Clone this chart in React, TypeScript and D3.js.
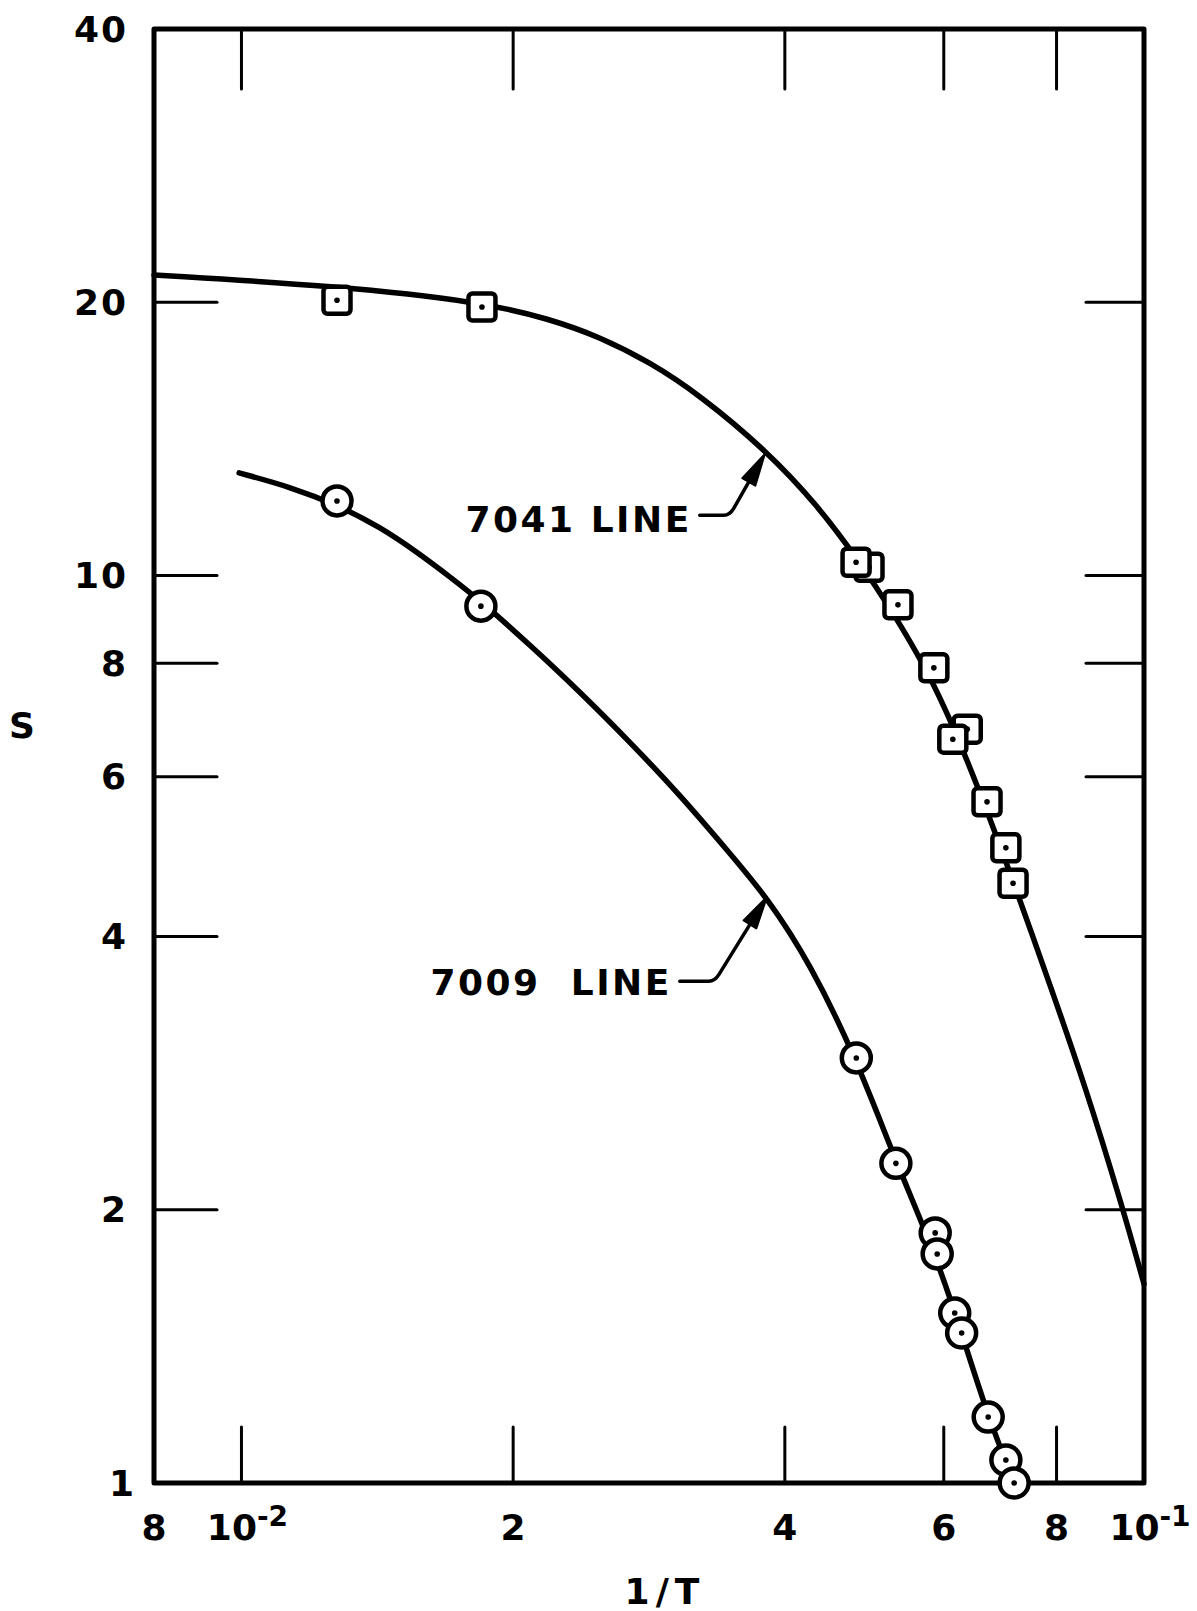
import React from "react";
import * as d3 from "d3";

const W = 1197;
const H = 1611;

// Axis ranges (log–log)
const xDomain = [0.008, 0.1];
const yDomain = [1, 40];

// Tick marks and their labels
const xTickValues = [0.01, 0.02, 0.04, 0.06, 0.08];
const xLabelValues = [0.008, 0.01, 0.02, 0.04, 0.06, 0.08, 0.1];
const xLabelBase = ["8", "10", "2", "4", "6", "8", "10"];
const xLabelExp = ["", "-2", "", "", "", "", "-1"];
const yTickValues = [2, 4, 6, 8, 10, 20];
const yLabelValues = [1, 2, 4, 6, 8, 10, 20, 40];
const yLabelText = ["1", "2", "4", "6", "8", "10", "20", "40"];

// 7041 line: fitted curve and measured points (squares)
const curve7041X = [0.008, 0.01276, 0.01847, 0.02198, 0.02496, 0.02835, 0.03221, 0.03821, 0.04342, 0.04797, 0.05271, 0.05763, 0.06174, 0.06665, 0.07287, 0.07866, 0.086, 0.0945, 0.1];
const curve7041Y = [21.43, 20.84, 20.01, 19.16, 18.31, 17.18, 15.8, 13.71, 11.96, 10.48, 9.11, 7.83, 6.755, 5.585, 4.39, 3.54, 2.745, 2.025, 1.657];
const points7041X = [0.01276, 0.01847, 0.04958, 0.04797, 0.05338, 0.0585, 0.0637, 0.0614, 0.067, 0.0703, 0.0716];
const points7041Y = [20.1, 19.76, 10.21, 10.34, 9.28, 7.91, 6.77, 6.6, 5.63, 5.01, 4.58];

// 7009 line: fitted curve and measured points (circles)
const curve7009X = [0.00994, 0.01132, 0.01276, 0.01424, 0.01565, 0.01703, 0.01842, 0.02088, 0.02372, 0.02695, 0.03061, 0.03477, 0.03821, 0.04265, 0.04797, 0.0531, 0.0588, 0.0629, 0.0672, 0.0718];
const curve7009Y = [12.97, 12.52, 11.96, 11.31, 10.61, 9.96, 9.37, 8.38, 7.44, 6.55, 5.73, 4.94, 4.42, 3.74, 2.94, 2.258, 1.783, 1.456, 1.182, 1.0];
const points7009X = [0.01276, 0.01842, 0.048, 0.0531, 0.0587, 0.059, 0.0617, 0.0628, 0.0672, 0.0703, 0.0718];
const points7009Y = [12.08, 9.25, 2.94, 2.25, 1.886, 1.788, 1.539, 1.463, 1.182, 1.06, 1.0];

// Curve labels, each pointing at a spot on its curve
const labelText = ["7041 LINE", "7009  LINE"];
const labelAtX = [0.038, 0.0382];
const labelAtY = [13.6, 4.42];

const FONT = "'DejaVu Sans', sans-serif";

export default function App() {
  const left = 154, right = 1144, top = 29, bottom = 1483;
  const x = d3.scaleLog().domain(xDomain).range([left, right]);
  const y = d3.scaleLog().domain(yDomain).range([bottom, top]);

  const line = d3
    .line<[number, number]>()
    .x((d) => x(d[0]))
    .y((d) => y(d[1]))
    .curve(d3.curveBasis);

  const c7041 = line(curve7041X.map((v, i) => [v, curve7041Y[i]] as [number, number])) || "";
  const c7009 = line(curve7009X.map((v, i) => [v, curve7009Y[i]] as [number, number])) || "";

  const tickLen = 60;
  const sq = 13.5;

  // leader geometry relative to arrow tip: [startDx, startDy, elbowDx, elbowDy, textDx, textDy]
  const leaders = [
    [-65, 61, -35, 61, -73, 78],
    [-87, 84, -52, 84, -95, 98],
  ];

  return (
    <svg
      width={W}
      height={H}
      viewBox={`0 0 ${W} ${H}`}
      style={{ position: "absolute", left: 0, top: 0, background: "#fff" }}
    >
      <rect x={0} y={0} width={W} height={H} fill="#fff" />

      {/* ticks */}
      <g stroke="#000" strokeWidth={3} strokeLinecap="round">
        {xTickValues.map((v, i) => (
          <g key={"xt" + i}>
            <line x1={x(v)} x2={x(v)} y1={bottom} y2={bottom - tickLen + 4} />
            <line x1={x(v)} x2={x(v)} y1={top} y2={top + tickLen} />
          </g>
        ))}
        {yTickValues.map((v, i) => (
          <g key={"yt" + i}>
            <line x1={left} x2={left + tickLen + 3} y1={y(v)} y2={y(v)} />
            <line x1={right} x2={right - tickLen + 2} y1={y(v)} y2={y(v)} />
          </g>
        ))}
      </g>

      {/* frame */}
      <rect
        x={left}
        y={top}
        width={right - left}
        height={bottom - top}
        fill="none"
        stroke="#000"
        strokeWidth={5}
        strokeLinejoin="round"
      />

      {/* curves */}
      <path d={c7041} fill="none" stroke="#000" strokeWidth={5.5} strokeLinecap="round" />
      <path d={c7009} fill="none" stroke="#000" strokeWidth={5.5} strokeLinecap="round" />

      {/* leaders and labels */}
      {labelText.map((t, i) => {
        const tx = x(labelAtX[i]);
        const ty = y(labelAtY[i]);
        const [sdx, sdy, edx, edy, tdx, tdy] = leaders[i];
        const ex = tx + edx, ey = ty + edy;
        const len = Math.hypot(tx - ex, ty - ey);
        const ux = (tx - ex) / len, uy = (ty - ey) / len;
        const headL = 32, headW = 7.5;
        const bx = tx - ux * headL, by = ty - uy * headL;
        const px = -uy, py = ux;
        return (
          <g key={"lab" + i}>
            <path
              d={`M${tx + sdx},${ty + sdy} L${ex - 6},${ey} Q${ex},${ey} ${ex + ux * 8},${ey + uy * 8} L${bx},${by}`}
              fill="none"
              stroke="#000"
              strokeWidth={3.5}
              strokeLinecap="round"
              strokeLinejoin="round"
            />
            <polygon
              points={`${tx},${ty} ${bx + px * headW},${by + py * headW} ${bx - px * headW},${by - py * headW}`}
              fill="#000"
              stroke="#000"
              strokeWidth={2}
              strokeLinejoin="round"
            />
            <text
              x={tx + tdx}
              y={ty + tdy}
              textAnchor="end"
              fontFamily={FONT}
              fontWeight="bold"
              fontSize={36}
              letterSpacing={2.5}
              style={{ whiteSpace: "pre" }}
            >
              {t}
            </text>
          </g>
        );
      })}

      {/* markers: squares */}
      {points7041X.map((v, i) => {
        const cx = x(v), cy = y(points7041Y[i]);
        return (
          <g key={"sq" + i}>
            <rect
              x={cx - sq}
              y={cy - sq}
              width={sq * 2}
              height={sq * 2}
              rx={4}
              fill="#fff"
              stroke="#000"
              strokeWidth={4.5}
            />
            <circle cx={cx} cy={cy} r={2.8} fill="#000" />
          </g>
        );
      })}

      {/* markers: circles */}
      {points7009X.map((v, i) => {
        const cx = x(v), cy = y(points7009Y[i]);
        return (
          <g key={"ci" + i}>
            <circle cx={cx} cy={cy} r={14.5} fill="#fff" stroke="#000" strokeWidth={4.5} />
            <circle cx={cx} cy={cy} r={2.8} fill="#000" />
          </g>
        );
      })}

      {/* y tick labels */}
      {yLabelValues.map((v, i) => (
        <text
          key={"yl" + i}
          x={v === 1 ? 136 : 128}
          y={y(v)}
          textAnchor="end"
          dominantBaseline="central"
          fontFamily={FONT}
          fontWeight="bold"
          fontSize={36}
          letterSpacing={2}
        >
          {yLabelText[i]}
        </text>
      ))}

      {/* x tick labels */}
      {xLabelValues.map((v, i) => (
        <text
          key={"xl" + i}
          x={x(v) + (xLabelExp[i] ? 6 : 0)}
          y={1540}
          textAnchor="middle"
          fontFamily={FONT}
          fontWeight="bold"
          fontSize={36}
        >
          <tspan>{xLabelBase[i]}</tspan>
          {xLabelExp[i] ? (
            <tspan dy={-14} fontSize={28}>
              {xLabelExp[i]}
            </tspan>
          ) : null}
        </text>
      ))}

      {/* axis titles */}
      <text
        x={22}
        y={725}
        textAnchor="middle"
        dominantBaseline="central"
        fontFamily={FONT}
        fontWeight="bold"
        fontSize={36}
      >
        S
      </text>
      <text
        x={665}
        y={1604}
        textAnchor="middle"
        fontFamily={FONT}
        fontWeight="bold"
        fontSize={36}
        letterSpacing={6}
      >
        1/T
      </text>
    </svg>
  );
}
